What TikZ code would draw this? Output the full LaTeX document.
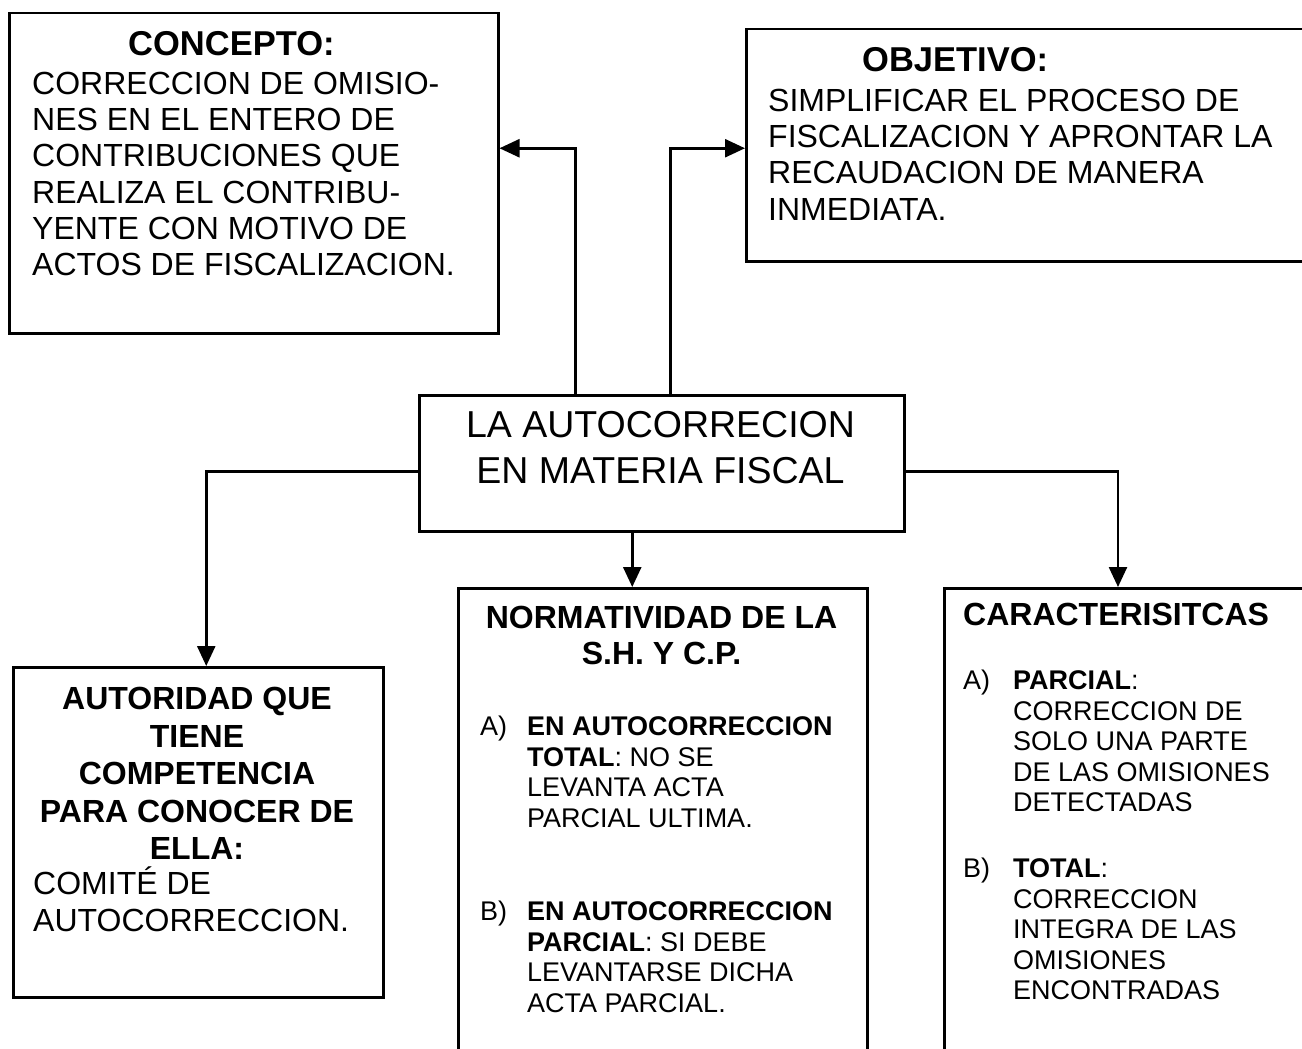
\documentclass[tikz,border=0pt]{standalone}
\usepackage{fontspec}
\setmainfont{Liberation Sans}
\usetikzlibrary{arrows.meta}
\tikzstyle{caja}=[draw, line width=2.5pt, anchor=north west, inner sep=0pt]
\tikzstyle{texto}=[inner sep=0pt, align=left, anchor=north west]
\tikzstyle{cuerpo}=[texto, font=\fontsize{32}{36.2}\selectfont]
\tikzstyle{titulo}=[texto, font=\bfseries\fontsize{34.5}{38}\selectfont]
\tikzstyle{subtitulo}=[texto, font=\bfseries\fontsize{32}{37.5}\selectfont]
\tikzstyle{inciso}=[texto, font=\fontsize{27}{30.5}\selectfont]
\tikzstyle{flecha}=[line width=2.5pt, -{Triangle[length=20pt,width=18pt]}]
\newcommand{\letra}[2]{\makebox[#1][l]{#2}}

\begin{document}
\begin{tikzpicture}[x=1pt,y=-1pt]
        \useasboundingbox (0,0) rectangle (1302,1049);
        \fill[white] (0,0) rectangle (1302,1049);
        \clip (0,0) rectangle (1302,1049);
        % cajas
        \node [caja, minimum width=489pt, minimum height=320pt] (concepto) at (8,12) {};
        \node [caja, minimum width=570pt, minimum height=232pt] (objetivo) at (745,28) {};
        \node [caja, minimum width=485pt, minimum height=136pt] (nucleo) at (418,394) {};
        \node [caja, minimum width=370pt, minimum height=330pt] (autoridad) at (12,666) {};
        \node [caja, minimum width=409pt, minimum height=490pt] (normatividad) at (457,587) {};
        \node [caja, minimum width=400pt, minimum height=490pt] (caracteristicas) at (943,587) {};
        % textos
        \node [titulo] (tconcepto) at (128,31) {CONCEPTO:};
        \node [cuerpo] (cconcepto) at (32,72) {CORRECCION DE OMISIO-\\NES EN EL ENTERO DE\\CONTRIBUCIONES QUE\\REALIZA EL CONTRIBU-\\YENTE CON MOTIVO DE\\ACTOS DE FISCALIZACION.};
        \node [titulo] (tobjetivo) at (862,47) {OBJETIVO:};
        \node [cuerpo] (cobjetivo) at (768,89) {SIMPLIFICAR EL PROCESO DE\\FISCALIZACION Y APRONTAR LA\\RECAUDACION DE MANERA\\INMEDIATA.};
        \node [texto, anchor=north, align=center, font=\fontsize{37.5}{46}\selectfont] (tnucleo) at (660.5,411) {LA AUTOCORRECION\\EN MATERIA FISCAL};
        \node [subtitulo, anchor=north, align=center] (tautoridad) at (197,687) {AUTORIDAD QUE\\TIENE\\COMPETENCIA\\PARA CONOCER DE\\ELLA:};
        \node [cuerpo] (cautoridad) at (33,867) {COMITÉ DE\\AUTOCORRECCION.};
        \node [subtitulo, anchor=north, align=center, font=\bfseries\fontsize{32}{36}\selectfont] (tnormatividad) at (661.5,606) {NORMATIVIDAD DE LA\\S.H. Y C.P.};
        \node [inciso] (na) at (480,716) {\letra{47pt}{A)}\textbf{EN AUTOCORRECCION}\\ \hspace*{47pt}\textbf{TOTAL}: NO SE\\ \hspace*{47pt}LEVANTA ACTA\\ \hspace*{47pt}PARCIAL ULTIMA.};
        \node [inciso] (nb) at (480,901) {\letra{47pt}{B)}\textbf{EN AUTOCORRECCION}\\ \hspace*{47pt}\textbf{PARCIAL}: SI DEBE\\ \hspace*{47pt}LEVANTARSE DICHA\\ \hspace*{47pt}ACTA PARCIAL.};
        \node [subtitulo] (tcaracteristicas) at (963,603) {CARACTERISITCAS};
        \node [inciso] (ca) at (963,670) {\letra{50pt}{A)}\textbf{PARCIAL}:\\ \hspace*{50pt}CORRECCION DE\\ \hspace*{50pt}SOLO UNA PARTE\\ \hspace*{50pt}DE LAS OMISIONES\\ \hspace*{50pt}DETECTADAS};
        \node [inciso] (cb) at (963,858) {\letra{50pt}{B)}\textbf{TOTAL}:\\ \hspace*{50pt}CORRECCION\\ \hspace*{50pt}INTEGRA DE LAS\\ \hspace*{50pt}OMISIONES\\ \hspace*{50pt}ENCONTRADAS};
        % conectores
        \draw[flecha] ([xshift=-86.5pt]nucleo.north) |- ([yshift=25pt]concepto.east);
        \draw[flecha] ([xshift=8.5pt]nucleo.north) |- ([yshift=-3pt]objetivo.west);
        \draw[flecha] ([yshift=-8pt]nucleo.west) -| ([xshift=8pt]autoridad.north);
        \draw[flecha] ([xshift=-29.5pt]nucleo.south) -- ([xshift=-29.5pt]nucleo.south |- normatividad.north);
        \draw[flecha] ([yshift=-8pt]nucleo.east) -| ([xshift=175pt]caracteristicas.north west);
\end{tikzpicture}
\end{document}
